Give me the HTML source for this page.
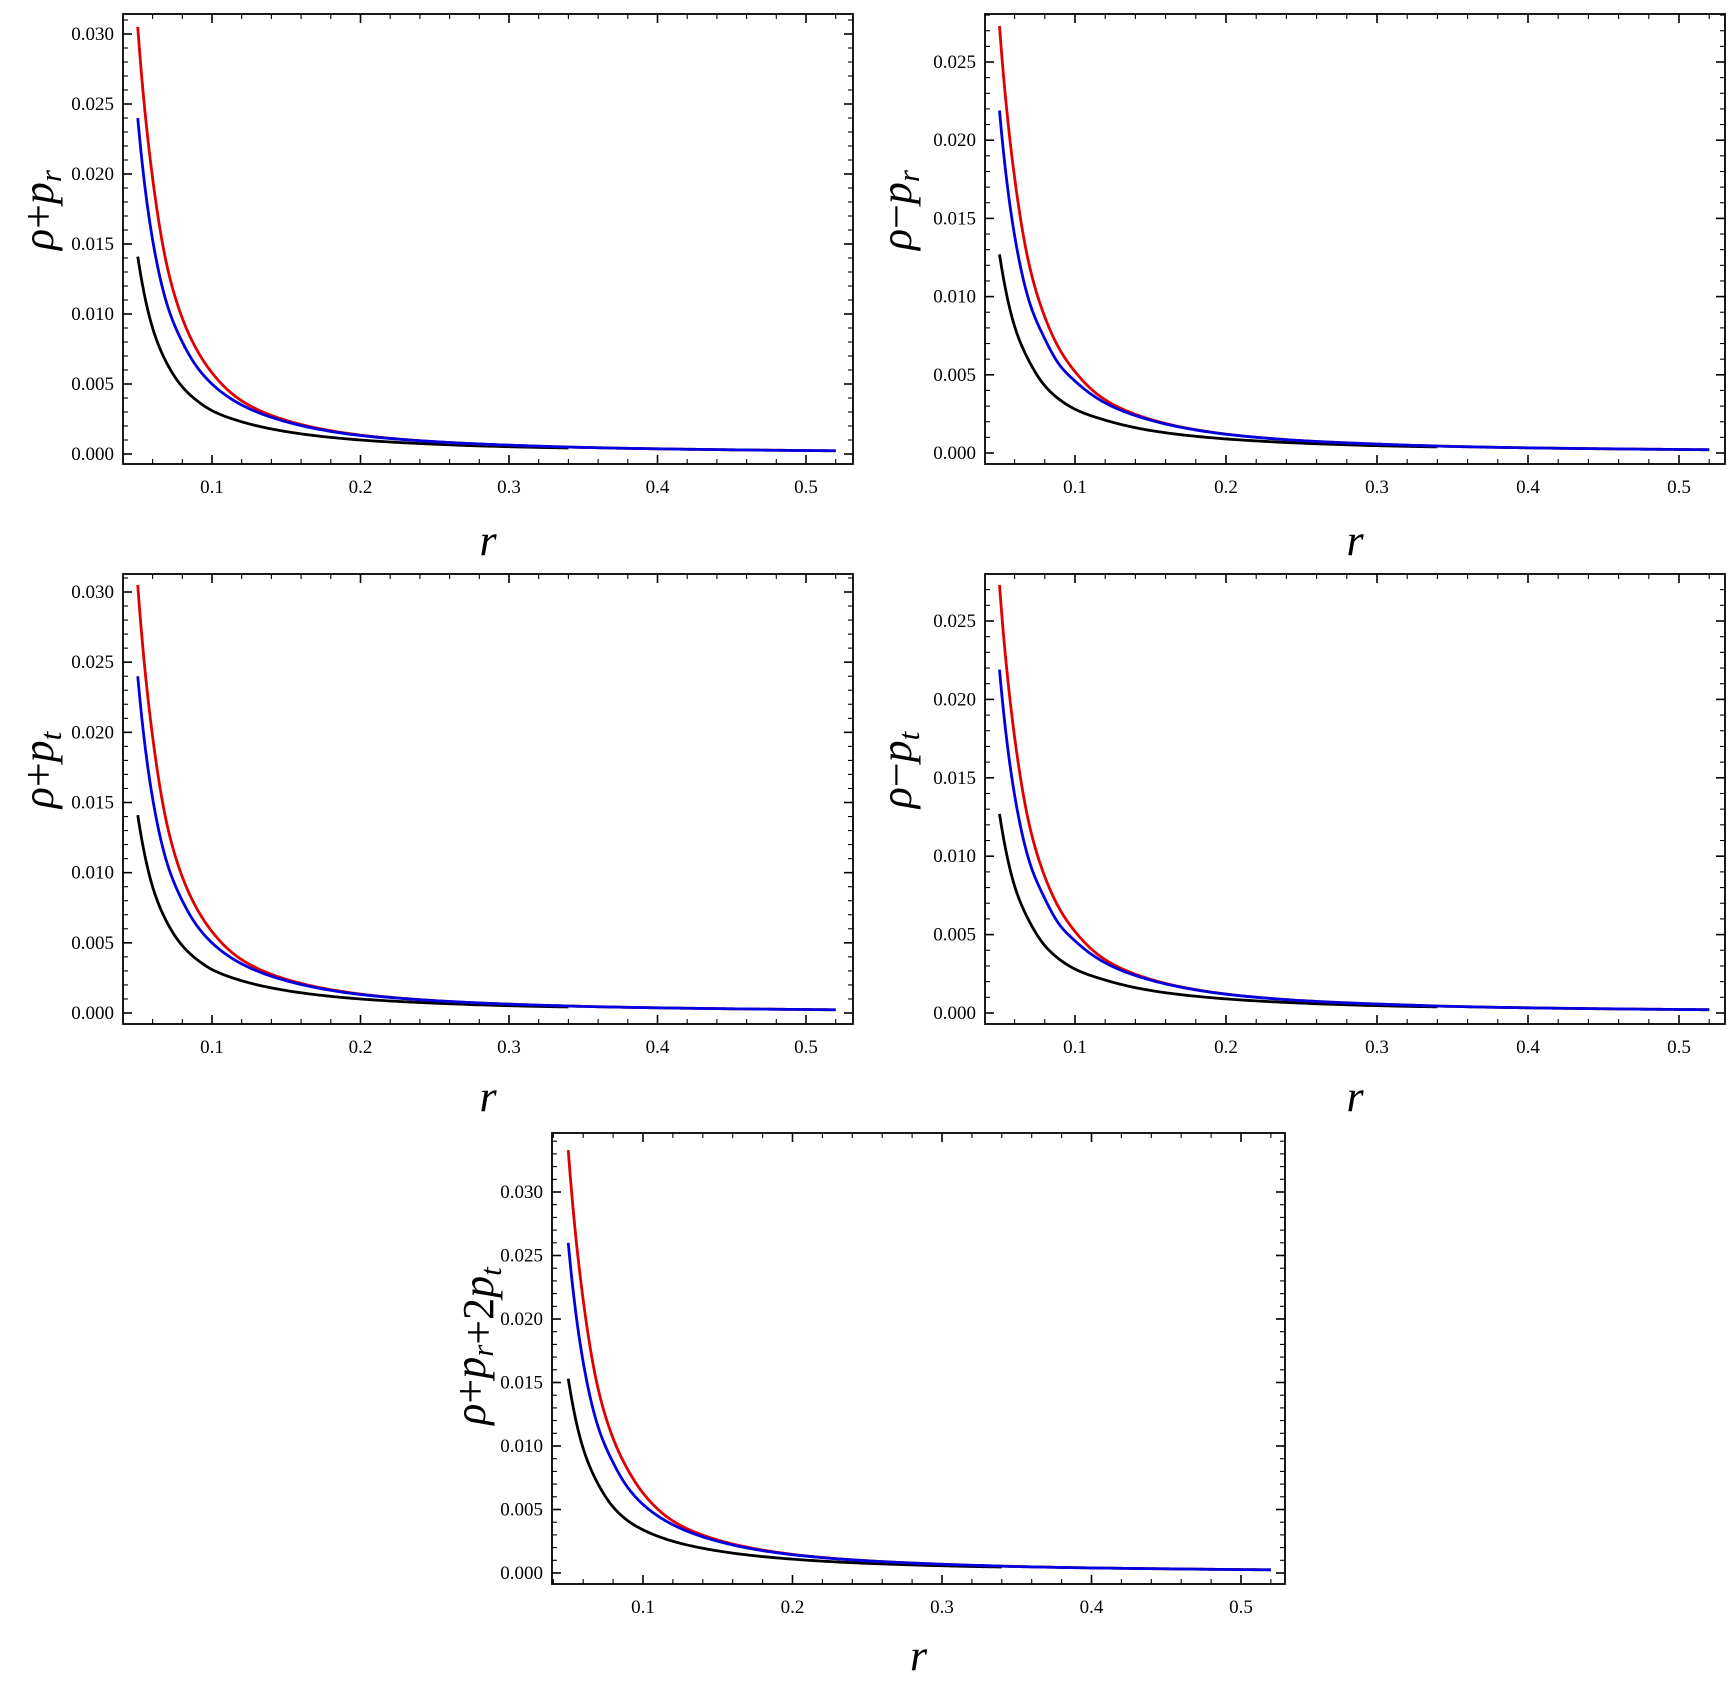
<!DOCTYPE html>
<html><head><meta charset="utf-8">
<style>
html,body{margin:0;padding:0;background:#fff;}
svg{display:block;font-family:"Liberation Serif",serif;}
</style></head>
<body>
<svg id="fig" width="1729" height="1688" viewBox="0 0 1729 1688" xmlns="http://www.w3.org/2000/svg"></svg>
<script>
const rVals = [0.05,0.06,0.07,0.08,0.09,0.1,0.12,0.15,0.2,0.25,0.3,0.35,0.4,0.45,0.52];
const rBlack = [0.05,0.06,0.07,0.08,0.09,0.1,0.12,0.15,0.2,0.25,0.3,0.34];
const xTicks = [0.1,0.2,0.3,0.4,0.5];
const xTickLabels = ["0.1","0.2","0.3","0.4","0.5"];

const red1 = [0.0305,0.0197,0.0133,0.0097,0.0074,0.0058,0.0038,0.0024,0.00135,0.00088,0.00063,0.00047,0.00037,0.0003,0.00023];
const blue1 = [0.024,0.0153,0.0106,0.0080,0.0062,0.005,0.0035,0.0023,0.00132,0.00088,0.00063,0.00047,0.00037,0.0003,0.00023];
const black1 = [0.0141,0.0090,0.0064,0.0048,0.0038,0.0031,0.0023,0.0016,0.001,0.0007,0.00052,0.00043];

const red2 = [0.0273,0.0176,0.0119,0.0087,0.0066,0.0052,0.0034,0.00215,0.00121,0.00079,0.00057,0.00042,0.00033,0.00027,0.00021];
const blue2 = [0.0219,0.0139,0.0096,0.0073,0.0056,0.0046,0.0032,0.0021,0.0012,0.00079,0.00057,0.00042,0.00033,0.00027,0.00021];
const black2 = [0.0127,0.0081,0.0058,0.0043,0.0034,0.0028,0.0021,0.00144,0.0009,0.00063,0.00047,0.00039];

const red3 = [0.0305,0.0197,0.0133,0.0097,0.0074,0.0058,0.0038,0.0024,0.00135,0.00088,0.00063,0.00047,0.00037,0.0003,0.00023];
const blue3 = [0.024,0.0153,0.0106,0.0080,0.0062,0.005,0.0035,0.0023,0.00132,0.00088,0.00063,0.00047,0.00037,0.0003,0.00023];
const black3 = [0.0141,0.0090,0.0064,0.0048,0.0038,0.0031,0.0023,0.0016,0.001,0.0007,0.00052,0.00043];

const red4 = [0.0273,0.0176,0.0119,0.0087,0.0066,0.0052,0.0034,0.00215,0.00121,0.00079,0.00057,0.00042,0.00033,0.00027,0.00021];
const blue4 = [0.0219,0.0139,0.0096,0.0073,0.0056,0.0046,0.0032,0.0021,0.0012,0.00079,0.00057,0.00042,0.00033,0.00027,0.00021];
const black4 = [0.0127,0.0081,0.0058,0.0043,0.0034,0.0028,0.0021,0.00144,0.0009,0.00063,0.00047,0.00039];

const red5 = [0.0333,0.0215,0.0145,0.0106,0.0081,0.0063,0.0041,0.0026,0.00147,0.00096,0.00069,0.00051,0.0004,0.00033,0.00025];
const blue5 = [0.026,0.0166,0.0115,0.0087,0.0067,0.0054,0.0038,0.0025,0.00144,0.00096,0.00069,0.00051,0.0004,0.00033,0.00025];
const black5 = [0.0153,0.0098,0.0070,0.0052,0.0041,0.0034,0.0025,0.00174,0.00109,0.00076,0.00057,0.00047];

const yTicksA = [0,0.005,0.01,0.015,0.02,0.025,0.03];
const yTickLabelsA = ["0.000","0.005","0.010","0.015","0.020","0.025","0.030"];
const yTicksB = [0,0.005,0.01,0.015,0.02,0.025];
const yTickLabelsB = ["0.000","0.005","0.010","0.015","0.020","0.025"];

const NS = "http://www.w3.org/2000/svg";
const svg = document.getElementById('fig');
function mk(tag, attrs, parent){ const e=document.createElementNS(NS,tag); for(const k in attrs) e.setAttribute(k,attrs[k]); (parent||svg).appendChild(e); return e; }

const panels = [
 {id:'rho-plus-pr', L:123,R:853,T:14,B:464, x1:212,x5:806, y0:454, yTop:34, yTopV:0.03, yt:yTicksA, ytl:yTickLabelsA, red:red1, blue:blue1, black:black1, lab:['ρ','+','p','r'], lx:39, ly:210, xl:555},
 {id:'rho-minus-pr', L:985,R:1725,T:14,B:464, x1:1075,x5:1679, y0:453, yTop:62, yTopV:0.025, yt:yTicksB, ytl:yTickLabelsB, red:red2, blue:blue2, black:black2, lab:['ρ','−','p','r'], lx:897, ly:210, xl:555},
 {id:'rho-plus-pt', L:123,R:853,T:574,B:1024, x1:212,x5:806, y0:1013, yTop:592, yTopV:0.03, yt:yTicksA, ytl:yTickLabelsA, red:red3, blue:blue3, black:black3, lab:['ρ','+','p','t'], lx:39, ly:770, xl:1111},
 {id:'rho-minus-pt', L:985,R:1725,T:574,B:1024, x1:1075,x5:1679, y0:1013, yTop:621, yTopV:0.025, yt:yTicksB, ytl:yTickLabelsB, red:red4, blue:blue4, black:black4, lab:['ρ','−','p','t'], lx:897, ly:770, xl:1111},
 {id:'rho-plus-pr-plus-2pt', L:552,R:1285,T:1133,B:1584, x1:643,x5:1241, y0:1573, yTop:1192, yTopV:0.03, yt:yTicksA, ytl:yTickLabelsA, red:red5, blue:blue5, black:black5, lab:['ρ','+','p','r','+2','p','t'], lx:471, ly:1346, xl:1670}
];

// smooth drawing: Hermite through (log r, log v), sampled densely
function pathFrom(xs, ys, X, Y){
  const lx = xs.map(v=>Math.log(v));
  const lg = ys.map(v=>Math.log(v));
  const n = xs.length;
  const sl = [];
  for(let i=0;i<n-1;i++) sl.push((lg[i+1]-lg[i])/(lx[i+1]-lx[i]));
  const m = [];
  for(let i=0;i<n;i++){
    if(i===0) m.push(sl[0]);
    else if(i===n-1) m.push(sl[n-2]);
    else m.push((sl[i-1]+sl[i])/2);
  }
  let d = '';
  for(let i=0;i<n-1;i++){
    const h = lx[i+1]-lx[i];
    const steps = 20;
    for(let s=(i===0?0:1); s<=steps; s++){
      const t=s/steps, t2=t*t, t3=t2*t;
      const val = (2*t3-3*t2+1)*lg[i] + (t3-2*t2+t)*h*m[i] + (-2*t3+3*t2)*lg[i+1] + (t3-t2)*h*m[i+1];
      const px = X(Math.exp(lx[i]+t*h)), py = Y(Math.exp(val));
      d += (d===''?'M':'L') + px.toFixed(2)+','+py.toFixed(2)+' ';
    }
  }
  return d;
}

panels.forEach(p=>{
  const g = mk('g',{});
  
  
  const X = r => p.x1 + (r-0.1)*(p.x5-p.x1)/0.4;
  const Y = v => p.y0 - v*(p.y0-p.yTop)/p.yTopV;
  const xmin = 0.1 - (p.x1-p.L)/((p.x5-p.x1)/0.4);
  const xmax = 0.1 + (p.R-p.x1)/((p.x5-p.x1)/0.4);
  const ppu = (p.y0-p.yTop)/p.yTopV;
  const ymin = -(p.B-p.y0)/ppu, ymax = (p.y0-p.T)/ppu;

  const tk = mk('g',{stroke:'#000','stroke-width':1.2},g);
  
  
  for(let i=Math.ceil(xmin/0.02);i*0.02<=xmax;i++){
    const v=i*0.02, x=X(v), major = i%5===0, len = major?9:5;
    mk('line',{x1:x,y1:p.B,x2:x,y2:p.B-len,'stroke-width':major?1.6:1.1},tk);
    mk('line',{x1:x,y1:p.T,x2:x,y2:p.T+len,'stroke-width':major?1.6:1.1},tk);
  }
  for(let i=Math.ceil(ymin/0.001);i*0.001<=ymax;i++){
    const v=i*0.001, y=Y(v), major = i%5===0, len = major?9:5;
    mk('line',{x1:p.L,y1:y,x2:p.L+len,y2:y,'stroke-width':major?1.6:1.1},tk);
    mk('line',{x1:p.R,y1:y,x2:p.R-len,y2:y,'stroke-width':major?1.6:1.1},tk);
  }
  xTicks.forEach((v,i)=>{
    const t = mk('text',{x:X(v),y:p.B+29,'font-size':19,'text-anchor':'middle'},g);
    
    
    t.textContent = xTickLabels[i];
  });
  p.yt.forEach((v,i)=>{
    const t = mk('text',{x:p.L-9,y:Y(v)+6,'font-size':19,'text-anchor':'end'},g);
    
    
    t.textContent = p.ytl[i];
  });
  const bl = mk('path',{d:pathFrom(rBlack,p.black,X,Y),fill:'none',stroke:'#000','stroke-width':2.8},g);
  
  
  const rd = mk('path',{d:pathFrom(rVals,p.red,X,Y),fill:'none',stroke:'#e00000','stroke-width':2.8},g);
  
  
  const bu = mk('path',{d:pathFrom(rVals,p.blue,X,Y),fill:'none',stroke:'#0000e0','stroke-width':2.8},g);
  
  
  const fr = mk('rect',{x:p.L,y:p.T,width:p.R-p.L,height:p.B-p.T,fill:'none',stroke:'#000','stroke-width':1.8},g);
  
  
  const xl = mk('text',{x:(p.L+p.R)/2,y:p.xl,'font-size':44,'font-style':'italic','text-anchor':'middle'},g);
  
  
  xl.textContent='r';
  const yl = mk('text',{x:0,y:0,'font-size':44,'font-style':'italic','text-anchor':'middle',transform:`translate(${p.lx+14},${p.ly}) rotate(-90)`},g);
  
  
  const L = p.lab;
  let html = '';
  for(let i=0;i<L.length;i++){
    const s=L[i];
    if(s==='r'||s==='t') html += `<tspan font-size="31" dy="8">${s}</tspan><tspan dy="-8"></tspan>`;
    else if(s==='+'||s==='−'||s==='+2') html += `<tspan font-style="normal">${s}</tspan>`;
    else html += `<tspan>${s}</tspan>`;
  }
  yl.innerHTML = html;
});
</script>
</body></html>
